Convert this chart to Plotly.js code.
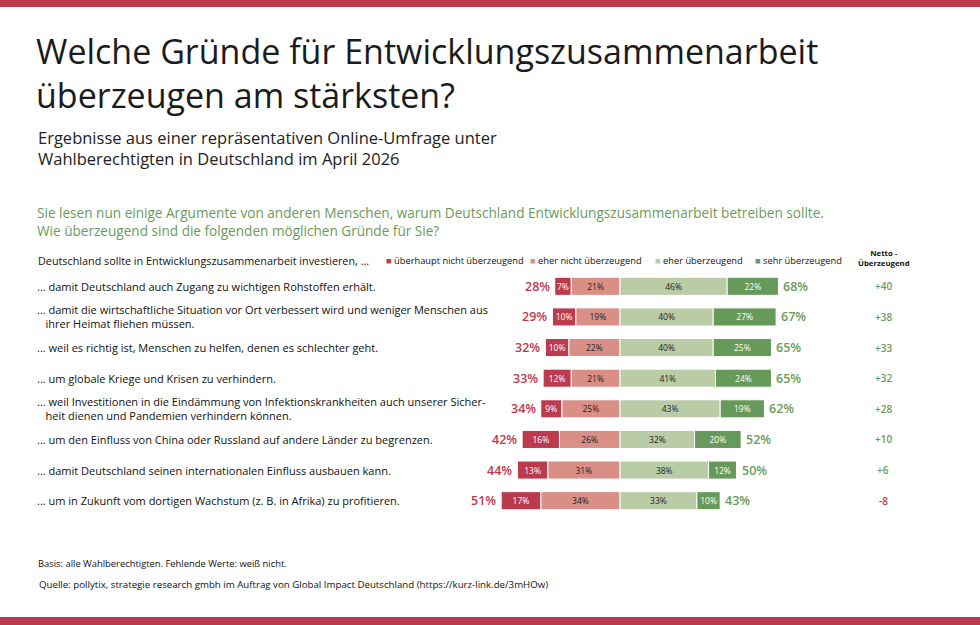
<!DOCTYPE html>
<html>
<head>
<meta charset="utf-8">
<script src="https://cdn.plot.ly/plotly-3.0.1.min.js"></script>
<style>
  html, body { margin: 0; padding: 0; background: #ffffff; }
  #chart { width: 980px; height: 625px; }
</style>
</head>
<body>
<div id="chart"></div>
<script>
// Survey reasons (top to bottom)
const reasons = [
  "... damit Deutschland auch Zugang zu wichtigen Rohstoffen erhält.",
  "... damit die wirtschaftliche Situation vor Ort verbessert wird und weniger Menschen aus<br>\u00a0\u00a0\u00a0ihrer Heimat fliehen müssen.",
  "... weil es richtig ist, Menschen zu helfen, denen es schlechter geht.",
  "... um globale Kriege und Krisen zu verhindern.",
  "... weil Investitionen in die Eindämmung von Infektionskrankheiten auch unserer Sicher-<br>\u00a0\u00a0\u00a0heit dienen und Pandemien verhindern können.",
  "... um den Einfluss von China oder Russland auf andere Länder zu begrenzen.",
  "... damit Deutschland seinen internationalen Einfluss ausbauen kann.",
  "... um in Zukunft vom dortigen Wachstum (z. B. in Afrika) zu profitieren."
];

// Shares in percent
const gar_nicht   = [7, 10, 10, 12, 9, 16, 13, 17];   // überhaupt nicht überzeugend
const eher_nicht  = [21, 19, 22, 21, 25, 26, 31, 34];  // eher nicht überzeugend
const eher        = [46, 40, 40, 41, 43, 32, 38, 33];  // eher überzeugend
const sehr        = [22, 27, 25, 24, 19, 20, 12, 10];  // sehr überzeugend

const legendLabels = ["überhaupt nicht überzeugend", "eher nicht überzeugend", "eher überzeugend", "sehr überzeugend"];

const C_DARKRED = "#bc3a4e", C_LIGHTRED = "#d98f86", C_LIGHTGREEN = "#bacca6", C_DARKGREEN = "#679a5a";
const C_REDTXT = "#c0384d", C_GREENTXT = "#6a9b5b";
const FONT = "Open Sans, Noto Sans, sans-serif";

const rows = reasons.map((_, i) => i);
const negTotal = rows.map(i => gar_nicht[i] + eher_nicht[i]);
const posTotal = rows.map(i => eher[i] + sehr[i]);
const netto = rows.map(i => posTotal[i] - negTotal[i]);

// plot area geometry (pixels) used to place free text outside it
const W = 980, MT = 271, MB = 109, H = 625 - MT - MB;
const px = p => p / W;
const py = p => (MT + H - p) / H;

function barTrace(vals, sign, color, txtColor, name) {
  return {
    type: "bar", orientation: "h", name: name,
    x: vals.map(v => sign * v), y: rows,
    width: 0.59,
    marker: { color: color, line: { color: "#ffffff", width: 1 } },
    text: vals.map(v => v + "%"),
    textposition: "inside", insidetextanchor: "middle", textangle: 0,
    textfont: { family: FONT, size: 8.5, color: txtColor },
    constraintext: "none",
    hoverinfo: "skip", showlegend: false
  };
}

const traces = [
  barTrace(eher_nicht, -1, C_LIGHTRED, "#222222", legendLabels[1]),
  barTrace(gar_nicht, -1, C_DARKRED, "#ffffff", legendLabels[0]),
  barTrace(eher, 1, C_LIGHTGREEN, "#222222", legendLabels[2]),
  barTrace(sehr, 1, C_DARKGREEN, "#ffffff", legendLabels[3])
];

const ann = [];
function txt(text, x, y, size, color, opts) {
  ann.push(Object.assign({
    text: text, xref: "paper", yref: "paper", x: px(x), y: py(y),
    xanchor: "left", yanchor: "middle", showarrow: false, align: "left",
    font: { family: FONT, size: size, color: color }
  }, opts || {}));
}

// headings
txt("Welche Gründe für Entwicklungszusammenarbeit<br>überzeugen am stärksten?", 34, 73, 34, "#1b1b1b");
txt("Ergebnisse aus einer repräsentativen Online-Umfrage unter<br>Wahlberechtigten in Deutschland im April 2026", 36, 147.5, 16.5, "#222222");
txt("Sie lesen nun einige Argumente von anderen Menschen, warum Deutschland Entwicklungszusammenarbeit betreiben sollte.<br>Wie überzeugend sind die folgenden möglichen Gründe für Sie?", 35, 221, 13.6, C_GREENTXT);
txt("Deutschland sollte in Entwicklungszusammenarbeit investieren, ...", 36, 260, 10.8, "#111111");

// legend
const legCols = [C_DARKRED, C_LIGHTRED, C_LIGHTGREEN, C_DARKGREEN];
const legX = [384, 528, 653, 753];
legendLabels.forEach((l, k) => {
  txt('<span style="color:' + legCols[k] + '">■</span> ' + l, legX[k], 260, 9.3, "#111111");
});
txt("<b>Netto -<br>Überzeugend</b>", 884, 258, 7.8, "#111111", { xanchor: "center", align: "center" });

// row labels, totals either side of the bars, and net values
rows.forEach(i => {
  ann.push({
    text: reasons[i], xref: "paper", yref: "y", x: px(35), y: i,
    xanchor: "left", yanchor: "middle", showarrow: false, align: "left",
    font: { family: FONT, size: 11, color: "#111111" }
  });
  ann.push({
    text: negTotal[i] + "%", xref: "x", yref: "y", x: -negTotal[i], y: i,
    xanchor: "right", yanchor: "middle", xshift: -3, showarrow: false,
    font: { family: FONT, size: 12.5, color: C_REDTXT, weight: 600 }
  });
  ann.push({
    text: posTotal[i] + "%", xref: "x", yref: "y", x: posTotal[i], y: i,
    xanchor: "left", yanchor: "middle", xshift: 3, showarrow: false,
    font: { family: FONT, size: 12.5, color: C_GREENTXT, weight: 600 }
  });
  ann.push({
    text: (netto[i] > 0 ? "+" : "") + netto[i], xref: "paper", yref: "y", x: px(883), y: i,
    xanchor: "center", yanchor: "middle", showarrow: false,
    font: { family: FONT, size: 10, color: netto[i] >= 0 ? C_GREENTXT : C_REDTXT, weight: 600 }
  });
});

// footnotes
txt("Basis: alle Wahlberechtigten. Fehlende Werte: weiß nicht.", 36, 563, 9.4, "#111111");
txt("Quelle: pollytix, strategie research gmbh im Auftrag von Global Impact Deutschland (https://kurz-link.de/3mHOw)", 37, 584, 9.7, "#111111");

const shapes = [
  { type: "rect", xref: "paper", yref: "paper", x0: 0, x1: 1, y0: py(0), y1: py(7), fillcolor: C_DARKRED, line: { width: 0 } },
  { type: "rect", xref: "paper", yref: "paper", x0: 0, x1: 1, y0: py(617), y1: py(625), fillcolor: C_DARKRED, line: { width: 0 } }
];

const layout = {
  width: 980, height: 625,
  margin: { l: 0, r: 0, t: MT, b: MB, pad: 0 },
  paper_bgcolor: "#ffffff", plot_bgcolor: "#ffffff",
  barmode: "relative", bargap: 0,
  showlegend: false,
  xaxis: { range: [-620 / 2.33, 360 / 2.33], visible: false, fixedrange: true },
  yaxis: { range: [7.5, -0.5], visible: false, fixedrange: true },
  annotations: ann, shapes: shapes,
  font: { family: FONT }
};

Plotly.newPlot("chart", traces, layout, { displayModeBar: false, staticPlot: true });
</script>
</body>
</html>
